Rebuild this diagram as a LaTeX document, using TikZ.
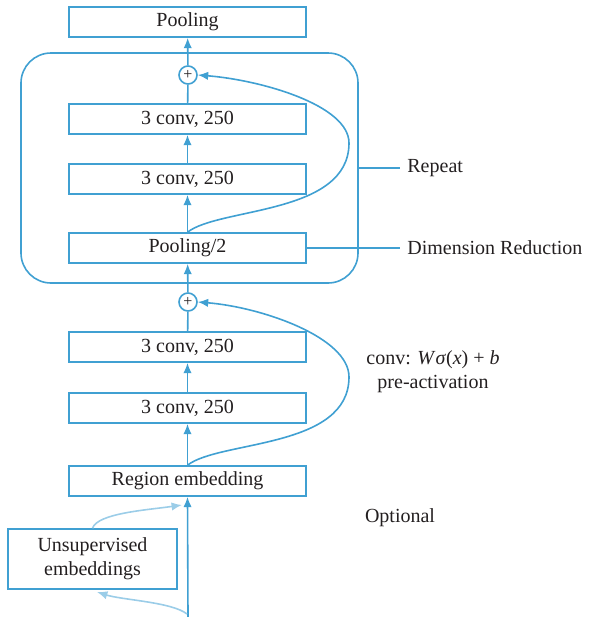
\documentclass[tikz,border=0pt]{standalone}
\usepackage{fontspec}
\setmainfont{Liberation Serif}
\usetikzlibrary{arrows.meta,calc}

\definecolor{netblue}{RGB}{64,160,210}
\definecolor{softblue}{RGB}{155,205,232}
\definecolor{ink}{RGB}{35,31,32}

\tikzset{
  layer/.style={draw=netblue, line width=0.8pt, fill=white, text=ink,
    minimum width=118.5pt, minimum height=15pt, inner sep=0pt},
  addop/.style={draw=netblue, line width=0.8pt, circle, fill=white, text=ink,
    minimum size=9pt, inner sep=0pt, font=\fontsize{8}{8}\selectfont},
  flow/.style={draw=netblue, line width=0.8pt, -{Latex[length=5.2pt,width=4.2pt]}},
  plain/.style={draw=netblue, line width=0.8pt},
  softflow/.style={draw=softblue, line width=0.8pt, -{Latex[length=5.2pt,width=4.2pt]}},
  note/.style={text=ink, inner sep=3.5pt, anchor=west},
}

\begin{document}
\begin{tikzpicture}[x=0.5pt, y=-0.5pt, font=\fontsize{10}{12}\selectfont]
  \useasboundingbox (0,0) rectangle (591,617);

  % repeated block frame
  \node (rep) [draw=netblue, line width=0.8pt, rounded corners=15pt,
    minimum width=168.5pt, minimum height=115pt] at (189.5,168) {};

  % layer stack
  \node (pool)   [layer] at (187.5,22)  {Pooling};
  \node (plus1)  [addop] at (188,75)    {+};
  \node (c1)     [layer] at (187.5,119) {3 conv, 250};
  \node (c2)     [layer] at (187.5,179) {3 conv, 250};
  \node (pool2)  [layer] at (187.5,248) {Pooling/2};
  \node (plus2)  [addop] at (188,302)   {+};
  \node (c3)     [layer] at (187.5,347) {3 conv, 250};
  \node (c4)     [layer] at (187.5,408) {3 conv, 250};
  \node (region) [layer] at (187.5,481) {Region embedding};
  \node (unsup)  [layer, minimum width=84.5pt, minimum height=30pt, align=center]
    at (92.5,559) {Unsupervised\\embeddings};

  % side notes
  \node (repl) [note] at (400,168) {Repeat};
  \node (dimr) [note] at (400,248) {Dimension Reduction};
  \node (convl) [text=ink, align=center] at (433,372)
    {conv: \textit{W}\textit{σ}(\textit{x}) + \textit{b}\\pre-activation};
  \node (optl) [text=ink] at (400,518) {Optional};

  \draw[plain] (rep.east) -- (repl.west);
  \draw[plain] (pool2.east) -- (dimr.west);

  % input and main path
  \coordinate (input) at (188,617);
  \coordinate (tap) at (187,614);
  \coordinate (embin) at (182,505);
  \coordinate (unsupin) at (97,592);
  \coordinate (loop1) at (349,143);
  \coordinate (loop2) at (349,377);

  \draw[flow] (input) -- (region.south);
  \draw[flow] (region) -- (c4);
  \draw[flow] (c4) -- (c3);
  \draw[plain] (c3) -- (plus2);
  \draw[flow] (plus2) -- (pool2);
  \draw[flow] (pool2) -- (c2);
  \draw[flow] (c2) -- (c1);
  \draw[plain] (c1) -- (plus1);
  \draw[flow] (plus1) -- (pool);

  % shortcut connections
  \draw[flow] (pool2.north) .. controls +(32,-25) and +(0,72) .. (loop1)
    .. controls +(0,-38) and +(63,5) .. (plus1.east);
  \draw[flow] (region.north) .. controls +(32,-25) and +(0,72) .. (loop2)
    .. controls +(0,-40) and +(63,5) .. (plus2.east);

  % optional unsupervised embeddings
  \draw[softflow] (unsup.north) .. controls +(5,-15) and +(-35,5) .. (embin);
  \draw[softflow] (tap) .. controls +(-15,-12) and +(25,8) .. (unsupin);
\end{tikzpicture}
\end{document}
